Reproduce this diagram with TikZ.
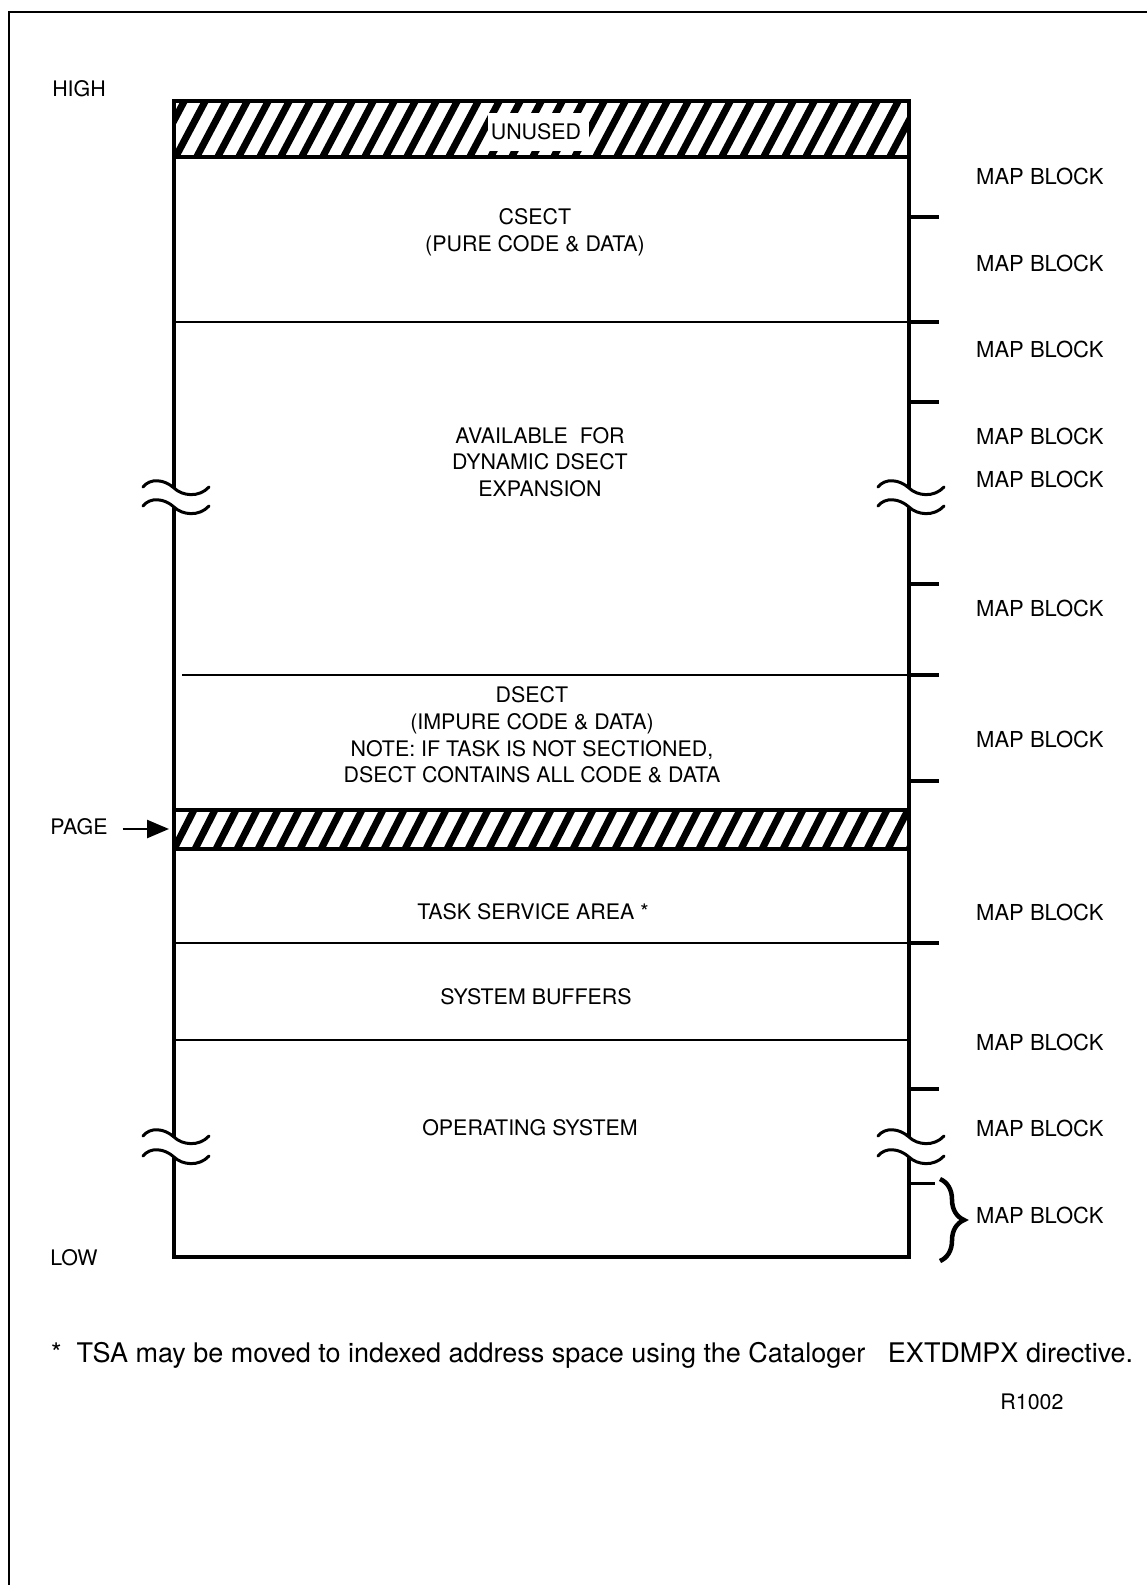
\documentclass[tikz,border=0pt]{standalone}
\usepackage{fontspec}
\setmainfont{TeX Gyre Heros}
\usetikzlibrary{arrows.meta,decorations.pathreplacing}
\begin{document}
\begin{tikzpicture}[x=1pt,y=-1pt,
  lbl/.style={font=\fontsize{21.4}{26.7}\selectfont, inner sep=0pt, align=center},
  maplbl/.style={font=\fontsize{22}{26}\selectfont, inner sep=0pt, anchor=west},
  notelbl/.style={font=\fontsize{27}{31}\selectfont, inner sep=0pt, anchor=west},
  boxline/.style={line width=3.5pt},
  divline/.style={line width=2.2pt},
  tickline/.style={line width=3.5pt},
  hatchline/.style={line width=7pt},
  brkline/.style={line width=3pt, line cap=round},
  brkmark/.pic={\draw[brkline] (-31,-1) .. controls (-24,-10) and (-10,-9) .. (0,0) .. controls (8,8) and (25,10) .. (35,-1);}
]
\useasboundingbox (0,0) rectangle (1147,1585);
% outer frame
\draw[line width=2.5pt] (9,1585) -- (9,12) -- (1147,12);

% hatched top band
\begin{scope}
  \clip (174,101) rectangle (909,157);
  \foreach \x in {110,131,...,960} \draw[hatchline] (\x,162) -- (\x+35,96);
\end{scope}
\fill[white] (488,113) rectangle (589,151);
\node[lbl] (unused) at (536,132) {UNUSED};

% hatched page band
\begin{scope}
  \clip (174,810) rectangle (909,849);
  \foreach \x in {130,151,...,960} \draw[hatchline] (\x,853) -- (\x+24,806);
\end{scope}

% main box with breaks
\draw[boxline] (174,488) -- (174,101) -- (909,101) -- (909,488);
\draw[boxline] (174,507) -- (174,1137);
\draw[boxline] (909,507) -- (909,1137);
\draw[boxline] (174,1157) -- (174,1257) -- (909,1257) -- (909,1157);
\pic at (174,488) {brkmark};
\pic at (174,507) {brkmark};
\pic at (909,488) {brkmark};
\pic at (909,507) {brkmark};
\pic at (174,1137) {brkmark};
\pic at (174,1157) {brkmark};
\pic at (909,1137) {brkmark};
\pic at (909,1157) {brkmark};

% dividers
\draw[boxline] (174,157) -- (909,157);
\draw[divline] (174,322) -- (909,322);
\draw[divline] (182,675) -- (909,675);
\draw[boxline] (174,810) -- (909,810);
\draw[boxline] (174,849) -- (909,849);
\draw[divline] (174,943) -- (909,943);
\draw[divline] (174,1040) -- (909,1040);

% ticks on right
\foreach \y in {217,322,402,584,675,781,943,1089}
  \draw[tickline] (909,\y) -- (939,\y);
\draw[line width=3pt] (909,1183) -- (935,1183);
\draw[line width=4.5pt, decorate, decoration={brace, amplitude=24pt, aspect=0.5}] (940,1179) -- (940,1261);

% map block labels
\foreach \y/\n in {176/m1,263/m2,349/m3,436/m4,479/m5,608/m6,739/m7,912/m8,1042/m9,1128/m10,1215/m11}
  \node[maplbl] (\n) at (976,\y) {MAP BLOCK};

% box texts
\node[lbl] (csect) at (535,232) {CSECT\\(PURE CODE \& DATA)};
\node[lbl] (avail) at (540,462) {AVAILABLE\ \ FOR\\DYNAMIC DSECT\\EXPANSION};
\node[lbl] (dsect) at (532,735) {DSECT\\(IMPURE CODE \& DATA)\\NOTE: IF TASK IS NOT SECTIONED,\\DSECT CONTAINS ALL CODE \& DATA};
\node[lbl] (tsa) at (533,912) {TASK SERVICE AREA *};
\node[lbl] (sysbuf) at (536,997) {SYSTEM BUFFERS};
\node[lbl] (opsys) at (530,1128) {OPERATING SYSTEM};

% left labels
\node[lbl] (high) at (79,89) {HIGH};
\node[lbl] (low) at (74,1258) {LOW};
\node[lbl] (page) at (79,827) {PAGE};
\coordinate (pagetip) at (169,829);
\draw[line width=2.5pt, -{Triangle[length=22pt,width=18pt]}] (page.east) ++(15,2) -- (pagetip);

% footnote
\node[notelbl] (note) at (51,1355) {*\ \ TSA may be moved to indexed address space using the Cataloger\ \ \ EXTDMPX directive.};
\node[lbl] (fig) at (1032,1402) {R1002};
\end{tikzpicture}
\end{document}
